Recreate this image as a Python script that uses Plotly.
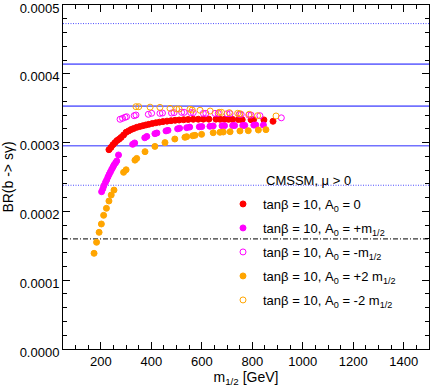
import plotly.graph_objects as go

# ---------------- data ----------------
m_a0_zero = [232, 240, 248, 256, 264, 272, 280, 290, 300, 310, 320, 330, 342, 354, 366,
             378, 390, 404, 418, 432, 446, 462, 478, 494, 510, 528, 546, 566, 586, 606,
             628, 656, 672, 690, 706, 722, 745, 760, 795, 805, 846, 882]
br_a0_zero = [0.0002897, 0.000293, 0.000297, 0.000300, 0.000303, 0.000305, 0.0003075, 0.000311,
              0.000315, 0.000317, 0.000319, 0.0003205, 0.0003222, 0.0003234, 0.0003245,
              0.0003256, 0.0003266, 0.0003278, 0.0003288, 0.0003297, 0.0003305, 0.0003312,
              0.0003318, 0.0003324, 0.0003328, 0.0003333, 0.0003336, 0.0003339, 0.000334,
              0.0003341, 0.0003341, 0.0003341, 0.000334, 0.0003339, 0.0003338, 0.0003337,
              0.0003335, 0.0003333, 0.0003333, 0.0003332, 0.000333, 0.000331]

m_a0_p1 = [203, 208, 212, 218, 223, 228, 233, 238, 243, 248, 252, 258, 263, 270,
           326, 334, 374, 382, 414, 422, 458, 466, 504, 512, 540, 552, 590, 600, 632, 645,
           680, 690, 722, 730, 762, 770, 806, 814, 844]
br_a0_p1 = [0.0002286, 0.000233, 0.0002374, 0.000242, 0.0002456, 0.00025, 0.0002539, 0.0002575,
            0.0002612, 0.0002645, 0.0002674, 0.0002705, 0.0002733, 0.000282,
            0.0002975, 0.0002995, 0.000307, 0.000309, 0.000313, 0.000314, 0.000317, 0.0003178,
            0.00032, 0.0003208, 0.0003217, 0.0003225, 0.000323, 0.0003233, 0.0003237, 0.0003242,
            0.0003245, 0.0003246, 0.0003247, 0.0003248, 0.000325, 0.000325, 0.0003254,
            0.0003255, 0.0003256]

m_a0_m1 = [276, 286, 296, 302, 332, 339, 388, 401, 434, 444, 480, 490, 520, 530, 556, 566,
           606, 616, 652, 665, 700, 712, 748, 756, 786, 795, 830, 915]
br_a0_m1 = [0.0003339, 0.0003353, 0.0003368, 0.0003376, 0.0003391, 0.0003401, 0.0003411,
            0.0003426, 0.0003425, 0.000343, 0.000343, 0.0003435, 0.000344, 0.000344,
            0.0003435, 0.0003435, 0.0003425, 0.0003425, 0.0003425, 0.0003425, 0.000342,
            0.000342, 0.0003411, 0.0003411, 0.00034, 0.00034, 0.0003391, 0.000336]

m_a0_p2 = [173, 183, 193, 202, 211, 222, 232, 241, 252, 290, 300, 335, 342, 375, 414, 454,
           493, 533, 540, 564, 573, 599, 645, 672, 685, 712, 751, 784, 824, 854]
br_a0_p2 = [0.0001391, 0.0001551, 0.0001696, 0.0001817, 0.0001943, 0.0002045, 0.0002151,
            0.0002238, 0.000231, 0.0002568, 0.0002605, 0.0002745, 0.000277, 0.0002868,
            0.0002945, 0.0003, 0.0003052, 0.0003077, 0.0003086, 0.00031, 0.0003106, 0.000312,
            0.0003144, 0.000315, 0.0003154, 0.0003158, 0.0003169, 0.0003173, 0.0003183,
            0.0003188]

m_a0_m2 = [339, 350, 395, 434, 474, 500, 510, 553, 562, 593, 633, 669, 678, 709, 742, 751,
           788, 821, 894]
br_a0_m2 = [0.0003522, 0.0003522, 0.0003515, 0.0003512, 0.0003498, 0.0003488, 0.0003488,
            0.0003484, 0.0003474, 0.000347, 0.0003459, 0.000344, 0.000344, 0.0003435,
            0.0003426, 0.000342, 0.0003411, 0.0003391, 0.0003387]

solid_lines = [0.000414, 0.000353, 0.0002955]
dotted_lines = [0.000473, 0.000238]
dashdot_line = 0.00016

series_names = ["tanβ = 10, A<sub>0</sub> = 0",
                "tanβ = 10, A<sub>0</sub> = +m<sub>1/2</sub>",
                "tanβ = 10, A<sub>0</sub> = -m<sub>1/2</sub>",
                "tanβ = 10, A<sub>0</sub> = +2 m<sub>1/2</sub>",
                "tanβ = 10, A<sub>0</sub> = -2 m<sub>1/2</sub>"]

x_ticks = [200, 400, 600, 800, 1000, 1200, 1400]
y_ticks = [0.0, 0.0001, 0.0002, 0.0003, 0.0004, 0.0005]

# ---------------- figure ----------------
RED = "#ff0000"
MAG = "#ff00ff"
ORA = "#ffa500"
BLUE = "#7272ff"
FONT = "Liberation Sans, Arial, sans-serif"

fig = go.Figure()

# reference lines
for yv in solid_lines:
    fig.add_hline(y=yv, line=dict(color=BLUE, width=1.6), layer="below")
for yv in dotted_lines:
    fig.add_hline(y=yv, line=dict(color="#4d4dff", width=1, dash="1px,1.5px"), layer="below")
fig.add_hline(y=dashdot_line, line=dict(color="black", width=1, dash="5px,2px,1px,2px"),
              layer="below")

series = [
    (m_a0_zero, br_a0_zero, RED, "circle"),
    (m_a0_p1, br_a0_p1, MAG, "circle"),
    (m_a0_m1, br_a0_m1, MAG, "circle-open"),
    (m_a0_p2, br_a0_p2, ORA, "circle"),
    (m_a0_m2, br_a0_m2, ORA, "circle-open"),
]
for i, (xs, ys, col, sym) in enumerate(series):
    fig.add_trace(go.Scatter(
        x=xs, y=ys, mode="markers", name=series_names[i],
        marker=dict(color=col, symbol=sym, size=6,
                    line=dict(color=col, width=1)),
        legend="legend" if i == 0 else f"legend{i+1}",
        showlegend=True,
    ))

L, R, T, B = 63, 3, 5, 38
W, H = 432, 387
pw, ph = W - L - R, H - T - B

def py(yp):
    # pixel y (from top of figure) -> paper fraction
    return 1 - (yp - T) / ph

def px(xp):
    return (xp - L) / pw

legend_rows = [204, 228, 252, 276, 300]
legends = {}
for i, yr in enumerate(legend_rows):
    key = "legend" if i == 0 else f"legend{i+1}"
    legends[key] = dict(
        x=px(223), y=py(yr), xanchor="left", yanchor="middle",
        bgcolor="rgba(0,0,0,0)", borderwidth=0,
        font=dict(family=FONT, size=13, color="black"),
        tracegroupgap=0,
    )

fig.update_layout(
    width=W, height=H,
    margin=dict(l=L, r=R, t=T, b=B),
    paper_bgcolor="white", plot_bgcolor="white",
    font=dict(family=FONT, size=13, color="black"),
    **legends,
    annotations=[dict(
        x=px(264), y=py(180), xref="paper", yref="paper",
        xanchor="left", yanchor="middle", showarrow=False,
        text="CMSSM, μ > 0", font=dict(family=FONT, size=13, color="black"))],
)

fig.update_xaxes(
    range=[50, 1500], tickvals=x_ticks, ticks="inside", ticklen=7, tickwidth=1,
    tickcolor="black", showline=True, linecolor="black", linewidth=1,
    mirror="allticks", showgrid=False, zeroline=False,
    minor=dict(dtick=50, tick0=0, ticks="inside", ticklen=4, tickcolor="black", showgrid=False),
    title=dict(text="m<sub>1/2</sub> [GeV]", font=dict(family=FONT, size=14), standoff=6),
    tickfont=dict(family=FONT, size=13), ticklabeloverflow="allow", automargin=False,
)
fig.update_yaxes(
    range=[0, 0.0005], tickvals=y_ticks, tickformat=".4f", ticks="inside", ticklen=7,
    tickwidth=1, tickcolor="black", showline=True, linecolor="black", linewidth=1,
    mirror="allticks", showgrid=False, zeroline=False,
    minor=dict(dtick=0.00002, tick0=0, ticks="inside", ticklen=4, tickcolor="black", showgrid=False),
    title=dict(text="BR(b -> sγ)", font=dict(family=FONT, size=14), standoff=4),
    tickfont=dict(family=FONT, size=13), ticklabeloverflow="allow", automargin=False,
    ticklabelshift=3,
)

fig.write_html("out.html", config={"displayModeBar": False},
               post_script="document.body.style.margin='0';")
